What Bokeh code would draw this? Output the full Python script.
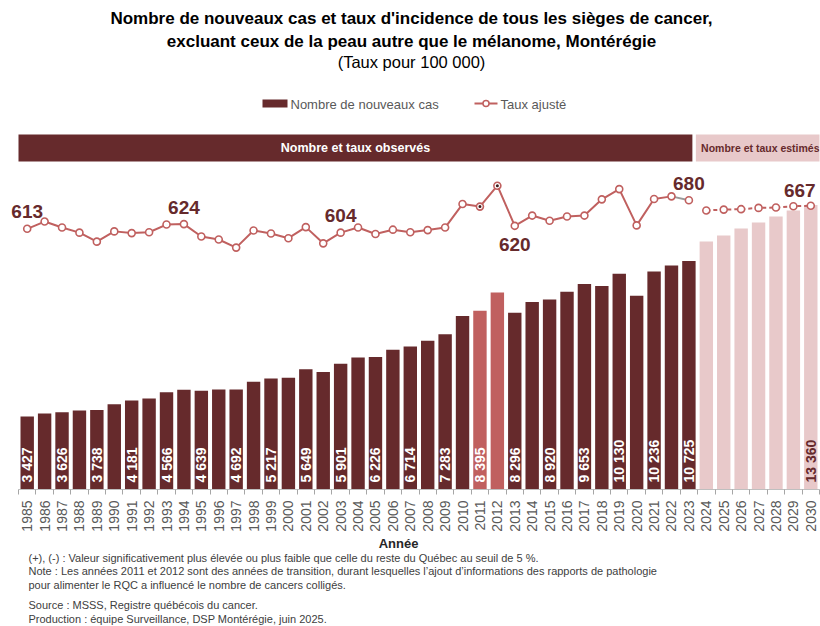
from math import pi
from bokeh.plotting import figure
from bokeh.layouts import column
from bokeh.models import Range1d, FixedTicker
from bokeh.core.properties import value
from bokeh.embed import file_html
from bokeh.resources import INLINE

# ---------------- data ----------------
years = list(range(1985, 2031))
cases = [3427, 3565, 3626, 3710, 3738, 4005, 4181, 4277, 4566, 4685,
         4639, 4700, 4692, 5061, 5217, 5249, 5649, 5512, 5901, 6200,
         6226, 6563, 6714, 6986, 7283, 8141, 8395, 9254, 8296, 8798,
         8920, 9286, 9653, 9549, 10130, 9099, 10236, 10521, 10725,
         11648, 11930, 12258, 12540, 12822, 13103, 13360]
rates = [613, 630, 616, 604, 583, 607, 603, 605, 623, 624,
         595, 588, 569, 609, 602, 591, 617, 579, 604, 616,
         601, 611, 605, 610, 616, 671, 665, 714, 620, 644,
         632, 642, 644, 682, 706, 621, 683, 689, 680,
         656, 658, 659, 662, 663, 666, 667]
last_observed = 2023
transition_years = [2011, 2012]
significant_years = [2011, 2012]
bar_label_years = [y for y in range(1985, 2024, 2)] + [2030]
rate_label_years = [1985, 1994, 2003, 2013, 2023, 2030]

title1 = "Nombre de nouveaux cas et taux d'incidence de tous les sièges de cancer,"
title2 = "excluant ceux de la peau autre que le mélanome, Montérégie"
subtitle = "(Taux pour 100 000)"
banner_obs = "Nombre et taux observés"
banner_est = "Nombre et taux estimés"
legend_labels = ["Nombre de nouveaux cas", "Taux ajusté"]
x_title = "Année"
footnotes = [
    "(+), (-) : Valeur significativement plus élevée ou plus faible que celle du reste du Québec au seuil de 5 %.",
    "Note : Les années 2011 et 2012 sont des années de transition, durant lesquelles l\u2019ajout d\u2019informations des rapports de pathologie",
    "pour alimenter le RQC a influencé le nombre de cancers colligés.",
    "Source : MSSS, Registre québécois du cancer.",
    "Production : équipe Surveillance, DSP Montérégie, juin 2025.",
]

# ---------------- styles ----------------
DARK = "#662a2c"
MID = "#c0605f"
LIGHT = "#e8c9ca"
GRAY = "#595959"
SANS = "'Liberation Sans', Arial, sans-serif"

STEP = 17.413            # pixels per year
FW, FH = 819, 489
BB = 46                  # bottom border of the chart (axis area)
x0 = 1984.5 - 18 / STEP  # frame starts at the canvas edge
fig = figure(frame_width=FW, frame_height=FH,
             x_range=Range1d(x0, 2030.5), y_range=Range1d(0, FH / 0.0213),
             output_backend="svg", toolbar_location=None, y_axis_location=None,
             min_border_left=0, min_border_right=1, min_border_top=0, min_border_bottom=BB)
fig.extra_y_ranges = {"rate": Range1d(2.5, 2.5 + FH / 0.427), "py": Range1d(0, FH)}
fig.extra_x_ranges = {"px": Range1d(0, FW)}
fig.outline_line_color = None
fig.grid.visible = False

# bars
bar_colors = [LIGHT if y > last_observed else (MID if y in transition_years else DARK) for y in years]
fig.vbar(x=years, top=cases, width=0.77, fill_color=bar_colors, line_color=None)


def fr(n):
    return f"{n:,}".replace(",", " ")


lab_t = [fr(cases[years.index(y)]) for y in bar_label_years]
lab_c = ["white" if y <= last_observed else DARK for y in bar_label_years]
fig.text(x=bar_label_years, y=[7] * len(bar_label_years), y_range_name="py", text=lab_t,
         angle=pi / 2, text_align="left", text_baseline="middle", text_color=lab_c,
         text_font=value(SANS), text_font_style="bold", text_font_size="14px")

# rate line
obs_idx = [i for i, y in enumerate(years) if y <= last_observed]
est_idx = [i for i, y in enumerate(years) if y > last_observed]
ox = [years[i] for i in obs_idx]
oy = [rates[i] for i in obs_idx]
ex = [years[i] for i in est_idx]
ey = [rates[i] for i in est_idx]
fig.line(ox[:-1], oy[:-1], y_range_name="rate", line_color=MID, line_width=2)
fig.line(ox[-2:], oy[-2:], y_range_name="rate", line_color="#9a9a9a", line_width=2)
fig.line(ex, ey, y_range_name="rate", line_color=MID, line_width=2, line_dash="4 3")
fig.scatter(years, rates, y_range_name="rate", size=7, fill_color="white",
            line_color=MID, line_width=1.6)
fig.scatter(significant_years, [rates[years.index(y)] for y in significant_years],
            y_range_name="rate", size=3, fill_color="#3a1c1c", line_color=None)

rl_dx = [0, 0, 0, 0, 0, -11]
rl_dy = [-17, -17, -17, 19, -17, -15]
fig.text(x=rate_label_years, y=[rates[years.index(y)] for y in rate_label_years],
         y_range_name="rate", text=[str(rates[years.index(y)]) for y in rate_label_years],
         x_offset=rl_dx, y_offset=rl_dy, text_align="center", text_baseline="middle",
         text_color=DARK, text_font=value(SANS), text_font_style="bold", text_font_size="19px")

# banner
fig.quad(left=[1984.5], right=[last_observed + 0.2], bottom=[328], top=[355],
         y_range_name="py", fill_color=DARK, line_color=None)
fig.quad(left=[last_observed + 0.4], right=[2031], bottom=[328], top=[355],
         y_range_name="py", fill_color=LIGHT, line_color=None)
fig.text(x=[(1984.5 + last_observed + 0.2) / 2], y=[341.5], y_range_name="py",
         text=[banner_obs], text_align="center", text_baseline="middle",
         text_color="white", text_font=value(SANS), text_font_style="bold", text_font_size="12.5px")
fig.text(x=[last_observed + 0.7], y=[341.5], y_range_name="py",
         text=[banner_est], text_align="left", text_baseline="middle",
         text_color=DARK, text_font=value(SANS), text_font_style="bold", text_font_size="10.5px")

# titles
fig.text(x=[411, 411], y=[471, 448], x_range_name="px", y_range_name="py",
         text=[title1, title2], text_align="center", text_baseline="alphabetic",
         text_color="black", text_font=value(SANS), text_font_style="bold", text_font_size="17px")
fig.text(x=[411], y=[428], x_range_name="px", y_range_name="py", text=[subtitle],
         text_align="center", text_baseline="alphabetic", text_color="black",
         text_font=value(SANS), text_font_size="16.5px")

# legend
fig.rect(x=[274.5], y=[386], width=25, height=8, x_range_name="px", y_range_name="py",
         fill_color=DARK, line_color=None)
fig.text(x=[290, 500], y=[385.5, 385.5], x_range_name="px", y_range_name="py",
         text=legend_labels, text_align="left", text_baseline="middle",
         text_color=GRAY, text_font=value(SANS), text_font_size="13px")
fig.line([474, 497], [386, 386], x_range_name="px", y_range_name="py", line_color=MID, line_width=2)
fig.scatter([485.5], [386], x_range_name="px", y_range_name="py", size=6, fill_color="white",
            line_color=MID, line_width=1.5)

# x axis
ax = fig.xaxis[0]
ax.bounds = (1984.5, 2030.5)
ax.ticker = FixedTicker(ticks=years, minor_ticks=[y - 0.5 for y in years] + [years[-1] + 0.5])
ax.major_tick_out = 0
ax.major_tick_in = 0
ax.minor_tick_out = 5
ax.minor_tick_in = 0
ax.minor_tick_line_color = "#a6a6a6"
ax.axis_line_color = "#bfbfbf"
ax.major_label_orientation = pi / 2
ax.major_label_standoff = 6
ax.major_label_text_font = SANS
ax.major_label_text_font_size = "14px"
ax.major_label_text_color = GRAY

# notes panel below the chart
top_notes = FH + BB
NH = 626 - top_notes
notes = figure(width=820, height=NH, x_range=Range1d(0, FW), y_range=Range1d(NH, 0),
               output_backend="svg", toolbar_location=None, x_axis_location=None,
               y_axis_location=None, min_border=0, min_border_right=1)
notes.outline_line_color = None
notes.grid.visible = False
notes.text(x=[398], y=[543 - top_notes], text=[x_title], text_align="center", text_baseline="middle",
           text_color="#262626", text_font=value(SANS), text_font_style="bold", text_font_size="13px")
notes.text(x=[28] * len(footnotes), y=[v - top_notes for v in [557, 570.5, 584, 604.5, 618]],
           text=footnotes, text_align="left", text_baseline="middle", text_color="#404040",
           text_font=value(SANS), text_font_size="11px")

p = column(fig, notes)
open("out.html", "w").write(file_html(p, INLINE))
